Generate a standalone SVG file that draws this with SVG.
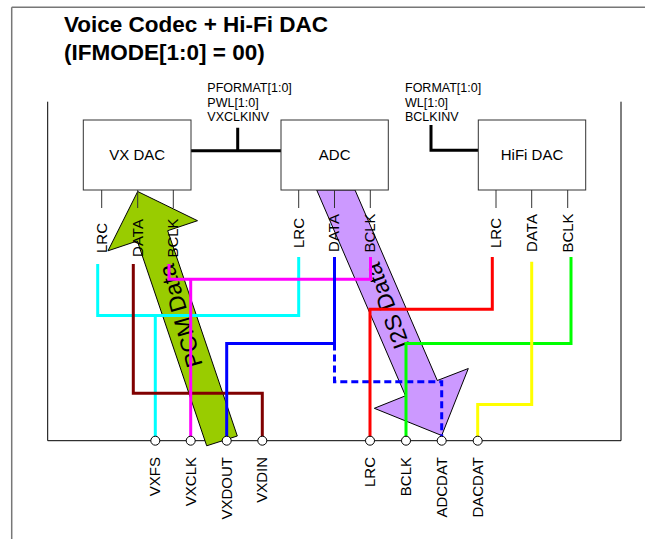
<svg xmlns="http://www.w3.org/2000/svg" width="645" height="539" viewBox="0 0 645 539">
<style>
text{font-family:"Liberation Sans",Arial,Helvetica,sans-serif;fill:#000}
.title{font-size:22.5px;font-weight:bold}
.param{font-size:12.5px}
.box rect{fill:#fff;stroke:#333;stroke-width:1}
.box text{font-size:15px;text-anchor:middle}
.stub{stroke:#333;stroke-width:1;fill:none}
.pl{font-size:14.5px;text-anchor:middle}
.bl{font-size:15px;text-anchor:end}
.w{fill:none;stroke-width:3}
.term{fill:#fff;stroke:#000;stroke-width:1}
.arrow{stroke:#000;stroke-width:1;stroke-linejoin:miter}
.atext{font-size:23px;text-anchor:middle;dominant-baseline:central}
.ctl{fill:none;stroke:#000;stroke-width:3}
</style>
<rect x="0" y="0" width="645" height="539" fill="#fff"/>
<g id="page-border">
<path d="M11.7,7.3 H645 M11.7,7.3 V539" fill="none" stroke="#777" stroke-width="1.5"/>
</g>
<g id="title">
<text class="title" x="64" y="32.3">Voice Codec + Hi-Fi DAC</text>
<text class="title" x="64" y="60">(IFMODE[1:0] = 00)</text>
</g>
<g id="frame">
<path d="M47.7,101.7 V440.7 H621 V101.7" fill="none" stroke="#000" stroke-width="1"/>
</g>
<g id="pcm-arrow">
<polygon class="arrow" fill="#99CC00" points="137.7,191.5 197.5,220.7 167.7,230.7 237.3,436 206.7,445.8 137.3,241 108,250.8"/>
</g>
<g id="i2s-arrow">
<polygon class="arrow" fill="#CC99FF" points="316.7,190 355,190 437.3,380.5 468.3,368.5 441.7,435.5 374.3,408.3 405.5,395.8"/>
</g>
<g id="control-lines">
<path class="ctl" d="M191,150.7 H281 M237.7,127.7 V150.7"/>
<path class="ctl" d="M431,125 V150.2 H478"/>
<text class="param" x="207.3" y="91.7">PFORMAT[1:0]</text>
<text class="param" x="207.3" y="106.7">PWL[1:0]</text>
<text class="param" x="207.3" y="121">VXCLKINV</text>
<text class="param" x="405" y="91.7">FORMAT[1:0]</text>
<text class="param" x="405" y="106.7">WL[1:0]</text>
<text class="param" x="405" y="121">BCLKINV</text>
</g>
<g id="vx-dac" class="box">
<rect x="83.3" y="120" width="107.7" height="70"/>
<text x="137.2" y="159.5">VX DAC</text>
<path class="stub" d="M101.7,190 V208 M137.7,190 V208 M173.3,190 V208"/>
<text class="pl" transform="translate(106.7,238) rotate(-90)">LRC</text>
<text class="pl" transform="translate(142.7,238) rotate(-90)">DATA</text>
<text class="pl" transform="translate(178.3,238) rotate(-90)">BCLK</text>
</g>
<g id="adc" class="box">
<rect x="281" y="120" width="107.3" height="70"/>
<text x="334.7" y="159.5">ADC</text>
<path class="stub" d="M298.7,190 V208 M334.5,190 V208 M370.3,190 V208"/>
<text class="pl" transform="translate(303.5,233) rotate(-90)">LRC</text>
<text class="pl" transform="translate(339.3,233) rotate(-90)">DATA</text>
<text class="pl" transform="translate(375.3,233) rotate(-90)">BCLK</text>
</g>
<g id="hifi-dac" class="box">
<rect x="478.3" y="120" width="107.4" height="70"/>
<text x="532" y="159.5">HiFi DAC</text>
<path class="stub" d="M496,190 V208 M531.7,190 V208 M567.7,190 V208"/>
<text class="pl" transform="translate(501,233) rotate(-90)">LRC</text>
<text class="pl" transform="translate(536.7,233) rotate(-90)">DATA</text>
<text class="pl" transform="translate(572.7,233) rotate(-90)">BCLK</text>
</g>
<g id="arrow-labels">
<text class="atext" transform="translate(180.5,316) rotate(-106)">PCM Data</text>
<text class="atext" transform="translate(387,306) rotate(-110)">I2S Data</text>
</g>
<g id="connectors">
<path class="w" stroke="#00FFFF" d="M97.7,264 V315.5 H298.7 V257 M155.3,315.5 V440.7"/>
<path class="w" stroke="#800000" d="M133.3,264 V393.3 H262.3 V440.7"/>
<path class="w" stroke="#FF00FF" d="M169,264 V279.3 H370.5 V257 M190.7,279.3 V440.7"/>
<path class="w" stroke="#0000FF" d="M334.5,257 V343.5 H226.7 V440.7"/>
<path class="w" stroke="#0000FF" stroke-dasharray="7,4" d="M334.5,343.5 V381.7 H441.7 V440.7"/>
<path class="w" stroke="#FF0000" d="M492.3,257 V309.3 H370 V440.7"/>
<path class="w" stroke="#00FF00" d="M571,257 V343.5 H406 V440.7"/>
<path class="w" stroke="#FFFF00" d="M531.7,261.7 V404.5 H477.7 V440.7"/>
</g>
<g id="terminals">
<circle class="term" cx="155.3" cy="440.7" r="4.5"/>
<circle class="term" cx="190.7" cy="440.7" r="4.5"/>
<circle class="term" cx="226.7" cy="440.7" r="4.5"/>
<circle class="term" cx="262.3" cy="440.7" r="4.5"/>
<circle class="term" cx="370" cy="440.7" r="4.5"/>
<circle class="term" cx="406" cy="440.7" r="4.5"/>
<circle class="term" cx="441.7" cy="440.7" r="4.5"/>
<circle class="term" cx="477.7" cy="440.7" r="4.5"/>
<text class="bl" transform="translate(160.3,457) rotate(-90)">VXFS</text>
<text class="bl" transform="translate(195.7,457) rotate(-90)">VXCLK</text>
<text class="bl" transform="translate(231.7,457) rotate(-90)">VXDOUT</text>
<text class="bl" transform="translate(267.3,457) rotate(-90)">VXDIN</text>
<text class="bl" transform="translate(375,457) rotate(-90)">LRC</text>
<text class="bl" transform="translate(411,457) rotate(-90)">BCLK</text>
<text class="bl" transform="translate(446.7,457) rotate(-90)">ADCDAT</text>
<text class="bl" transform="translate(482.7,457) rotate(-90)">DACDAT</text>
</g>
</svg>
